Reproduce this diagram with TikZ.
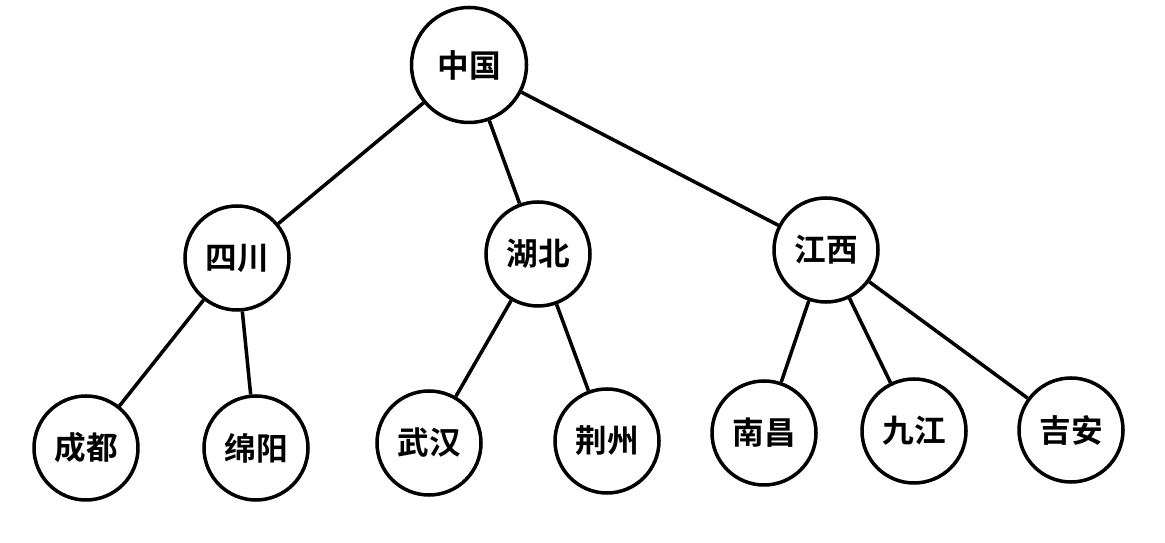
\documentclass[tikz,border=0pt]{standalone}
\usepackage{fontspec}
\newfontfamily\cjk{Noto Sans CJK SC}[BoldFont={Noto Sans CJK SC Bold}]
\usetikzlibrary{positioning}

\begin{document}
\begin{tikzpicture}[
                city/.style={circle, draw=black, line width=2pt, minimum size=2.08cm, inner sep=0pt, font=\cjk\bfseries\fontsize{18}{20}\selectfont},
                root/.style={city, minimum size=2.3cm},
                link/.style={line width=2pt}
            ]
                \useasboundingbox (0,0) rectangle (23.3,10.86);
                \node[root] (china) at (9.38,9.56) {中国};
                \node[city] (sichuan) at (4.74,5.7) {四川};
                \node[city] (hubei) at (10.76,5.78) {湖北};
                \node[city] (jiangxi) at (16.52,5.86) {江西};
                \node[city] (chengdu) at (1.72,1.9) {成都};
                \node[city] (mianyang) at (5.12,1.9) {绵阳};
                \node[city] (wuhan) at (8.58,2.0) {武汉};
                \node[city] (jingzhou) at (12.14,2.04) {荆州};
                \node[city] (nanchang) at (15.28,2.2) {南昌};
                \node[city] (jiujiang) at (18.28,2.24) {九江};
                \node[city] (jian) at (21.42,2.26) {吉安};
                
                \draw[link] (china) -- (sichuan);
                \draw[link] (china) -- (hubei);
                \draw[link] (china) -- (jiangxi);
                \draw[link] (sichuan) -- (chengdu);
                \draw[link] (sichuan) -- (mianyang);
                \draw[link] (hubei) -- (wuhan);
                \draw[link] (hubei) -- (jingzhou);
                \draw[link] (jiangxi) -- (nanchang);
                \draw[link] (jiangxi) -- (jiujiang);
                \draw[link] (jiangxi) -- (jian);
            \end{tikzpicture}
\end{document}
